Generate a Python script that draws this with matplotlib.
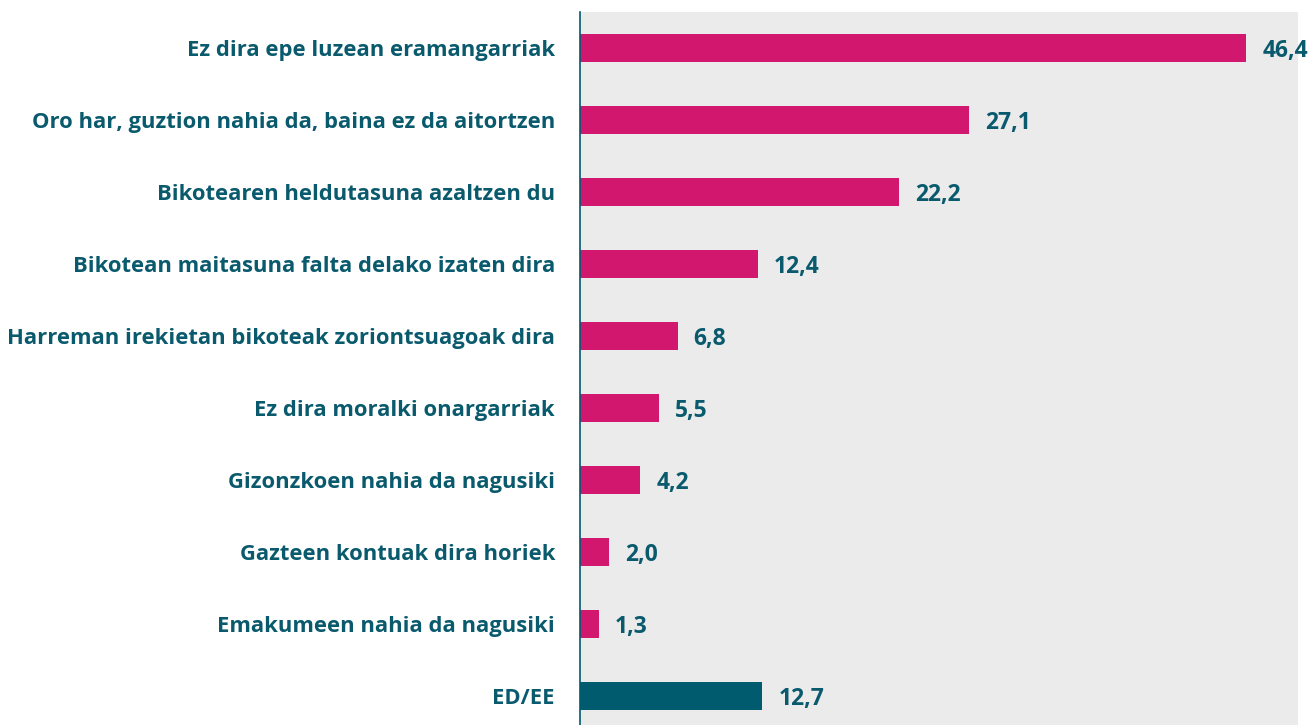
import matplotlib.pyplot as plt
from matplotlib.transforms import offset_copy

# Datos del gráfico
categorias = [
    "Ez dira epe luzean eramangarriak",
    "Oro har, guztion nahia da, baina ez da aitortzen",
    "Bikotearen heldutasuna azaltzen du",
    "Bikotean maitasuna falta delako izaten dira",
    "Harreman irekietan bikoteak zoriontsuagoak dira",
    "Ez dira moralki onargarriak",
    "Gizonzkoen nahia da nagusiki",
    "Gazteen kontuak dira horiek",
    "Emakumeen nahia da nagusiki",
    "ED/EE",
]
valores = [46.4, 27.1, 22.2, 12.4, 6.8, 5.5, 4.2, 2.0, 1.3, 12.7]
etiquetas = ["46,4", "27,1", "22,2", "12,4", "6,8", "5,5", "4,2", "2,0", "1,3", "12,7"]

rosa = "#d2176f"
azul = "#005b6e"
texto = "#0a5a6e"
colores = [rosa] * 9 + [azul]

plt.rcParams['font.family'] = ['Open Sans', 'DejaVu Sans']

fig = plt.figure(figsize=(13.12, 7.25), dpi=100)
ax = fig.add_axes([580 / 1312, 0, (1298 - 580) / 1312, (725 - 12) / 725])
ax.set_facecolor("#ebebeb")

pos = list(range(len(categorias)))
ax.barh(pos, valores, height=0.39, color=colores)
ax.set_xlim(0, 50)
ax.set_ylim(9.5 - 7 / 72, -0.5)

for p, v, t in zip(pos, valores, etiquetas):
    tr = offset_copy(ax.transData, fig=fig, x=16, y=0, units='dots')
    ax.text(v, p, t, transform=tr, ha='left', va='center_baseline', fontsize=16.5,
            fontweight='bold', color=texto, clip_on=False)

ax.set_yticks(pos)
ax.set_yticklabels(categorias, fontsize=15.8, fontweight='bold', color=texto)
ax.tick_params(axis='y', length=0, pad=18)
ax.set_xticks([])

for s in ['top', 'right', 'bottom']:
    ax.spines[s].set_visible(False)
ax.spines['left'].set_color(azul)
ax.spines['left'].set_linewidth(1.2)

fig.savefig("out.png", dpi=100)
